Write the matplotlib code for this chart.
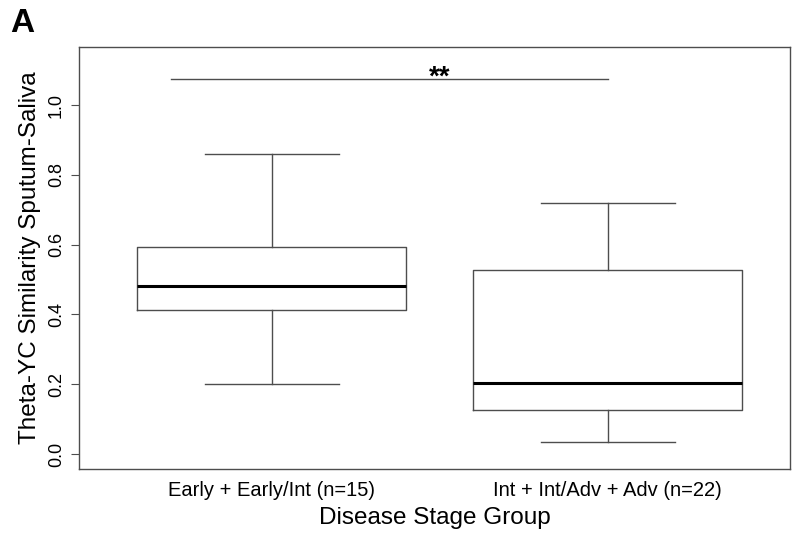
import matplotlib
matplotlib.use("Agg")
import matplotlib.pyplot as plt

plt.rcParams['font.family'] = ['Liberation Sans', 'DejaVu Sans']

# Five-number summaries per disease stage group
groups = ["Early + Early/Int (n=15)", "Int + Int/Adv + Adv (n=22)"]
whisker_low = [0.200, 0.034]
q1 = [0.413, 0.126]
median = [0.481, 0.203]
q3 = [0.593, 0.527]
whisker_high = [0.860, 0.719]

sig_label = "**"
sig_y = 1.075
sig_span = (0.7, 2.0)

yticks = [0.0, 0.2, 0.4, 0.6, 0.8, 1.0]

line_col = "#4d4d4d"

fig = plt.figure(figsize=(8.11, 5.35), dpi=100)
ax = fig.add_axes([0.0974, 0.1234, 0.8766, 0.7886])

stats = []
for i, g in enumerate(groups):
    stats.append(dict(label=g, whislo=whisker_low[i], q1=q1[i], med=median[i],
                      q3=q3[i], whishi=whisker_high[i], fliers=[]))

ax.bxp(stats, positions=[1, 2], widths=0.8, showfliers=False,
       boxprops=dict(color=line_col, linewidth=1.0),
       whiskerprops=dict(color=line_col, linewidth=1.0),
       capprops=dict(color=line_col, linewidth=1.0),
       medianprops=dict(color="black", linewidth=2.2))

ax.set_xlim(0.426, 2.542)
ax.set_ylim(-0.043, 1.166)

ax.plot(sig_span, [sig_y, sig_y], color=line_col, linewidth=1.0)
ax.text(1.5, sig_y + 0.003, sig_label, ha="center", va="center",
        fontsize=20, fontweight="bold")

ax.set_yticks(yticks)
ax.set_yticklabels([f"{t:.1f}" for t in yticks], rotation=90, va="center")
ax.tick_params(axis="y", labelsize=13, length=6, color=line_col, pad=4)
ax.tick_params(axis="x", labelsize=14.5, length=0, pad=9)
ax.set_xticks([1, 2])
ax.set_xticklabels(groups)

for s in ax.spines.values():
    s.set_color(line_col)
    s.set_linewidth(1.0)

ax.set_xlabel("Disease Stage Group", fontsize=17.5, labelpad=5)
ax.set_ylabel("Theta-YC Similarity Sputum-Saliva", fontsize=17.5, labelpad=5)

fig.text(0.012, 0.985, "A", fontsize=24, fontweight="bold", va="top", ha="left")

fig.savefig("out.png", dpi=100)
